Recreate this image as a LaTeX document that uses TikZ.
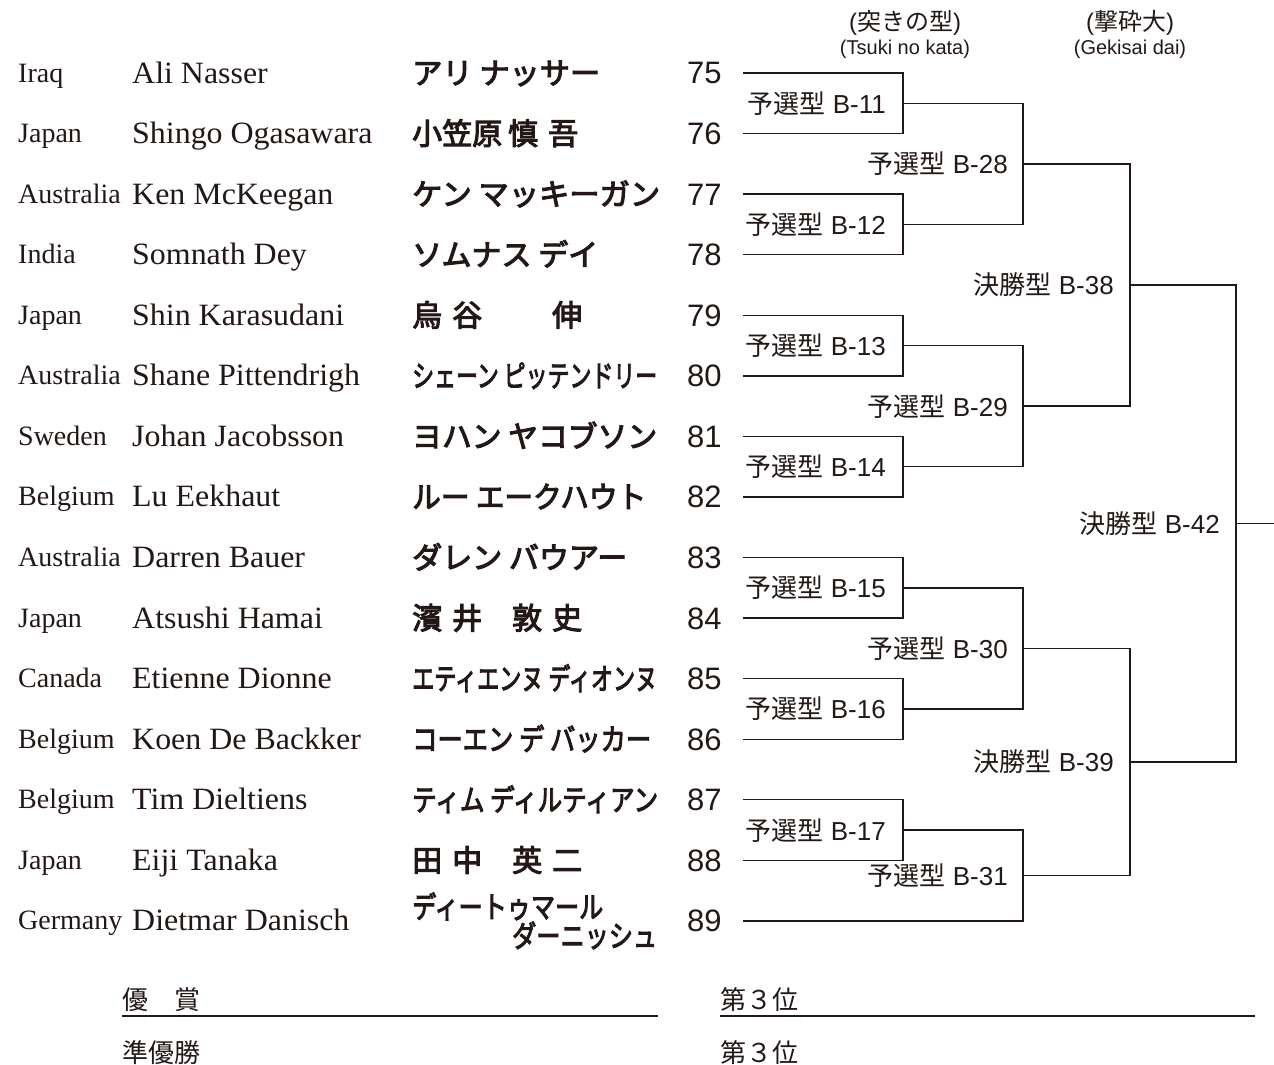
\documentclass[tikz,border=0pt]{standalone}
\usepackage{fontspec}
\usepackage{graphicx}
\setmainfont{Liberation Sans}
\newfontfamily\serif{Liberation Serif}
\newfontfamily\serifw{Liberation Serif}[FakeStretch=1.03]
\newfontfamily\jp{Noto Sans CJK JP}
\newfontfamily\jpb{Noto Sans CJK JP}[FakeBold=3.5]
\definecolor{ink}{HTML}{231815}
\newcommand\ry[1]{(73+60.57*(#1-75))}
\newcommand\kn[2]{\resizebox{#1pt}{\height}{#2}}
\newcommand\gap[1]{\hspace{#1pt}}
\tikzset{
  country/.style={anchor=base west, inner sep=0pt, text=ink, font=\serif\fontsize{28}{30}\selectfont},
  ename/.style={anchor=base west, inner sep=0pt, text=ink, font=\serifw\fontsize{31}{33}\selectfont},
  jname/.style={anchor=base west, inner sep=0pt, text=ink, font=\jpb\fontsize{30}{32}\selectfont},
  num/.style={anchor=base west, inner sep=0pt, text=ink, font=\fontsize{31}{33}\selectfont},
  lab/.style={anchor=base east, inner sep=0pt, text=ink, font=\fontsize{26}{28}\selectfont},
  hdjp/.style={anchor=base, inner sep=0pt, text=ink, font=\fontsize{24}{26}\selectfont},
  hdla/.style={anchor=base, inner sep=0pt, text=ink, font=\fontsize{20}{22}\selectfont},
  bot/.style={anchor=base west, inner sep=0pt, text=ink, font=\jp\fontsize{26}{28}\selectfont},
  br/.style={draw=ink, line width=1.3pt, line join=miter},
}
\newcommand\prow[4]{%
  \node[country] (c#1) at (18,{\ry{#1}+9}) {#2};
  \node[ename] (e#1) at (132,{\ry{#1}+10}) {#3};
  \node[jname] (k#1) at (412,{\ry{#1}+11}) {#4};
  \node[num] (n#1) at (687,{\ry{#1}+11}) {#1};
  \coordinate (s#1) at (743,{\ry{#1}});
}
\begin{document}
\begin{tikzpicture}[x=1pt,y=-1pt]
\useasboundingbox (0,0) rectangle (1274,1065);
% headers
\node[hdjp] (h1) at (905,31) {({\jp 突きの型})};
\node[hdla] (h2) at (905,55) {(Tsuki no kata)};
\node[hdjp] (h3) at (1130,31) {({\jp 撃砕大})};
\node[hdla] (h4) at (1130,55) {(Gekisai dai)};
% rows
\prow{75}{Iraq}{Ali Nasser}{\kn{188}{アリ ナッサー}}
\prow{76}{Japan}{Shingo Ogasawara}{小笠原\gap{6}慎\gap{10}吾}
\prow{77}{Australia}{Ken McKeegan}{\kn{248}{ケン マッキーガン}}
\prow{78}{India}{Somnath Dey}{\kn{186}{ソムナス デイ}}
\prow{79}{Japan}{Shin Karasudani}{烏\gap{10}谷\gap{70}伸}
\prow{80}{Australia}{Shane Pittendrigh}{\kn{245}{シェーン ピッテンドリー}}
\prow{81}{Sweden}{Johan Jacobsson}{\kn{245}{ヨハン ヤコブソン}}
\prow{82}{Belgium}{Lu Eekhaut}{\kn{234}{ルー エークハウト}}
\prow{83}{Australia}{Darren Bauer}{\kn{215}{ダレン バウアー}}
\prow{84}{Japan}{Atsushi Hamai}{濱\gap{10}井\gap{30}敦\gap{10}史}
\prow{85}{Canada}{Etienne Dionne}{\kn{245}{エティエンヌ ディオンヌ}}
\prow{86}{Belgium}{Koen De Backker}{\kn{239}{コーエン デ バッカー}}
\prow{87}{Belgium}{Tim Dieltiens}{\kn{246}{ティム ディルティアン}}
\prow{88}{Japan}{Eiji Tanaka}{田\gap{10}中\gap{30}英\gap{10}二}
% row 89
\node[country] (c89) at (18,{\ry{89}+9}) {Germany};
\node[ename] (e89) at (132,{\ry{89}+10}) {Dietmar Danisch};
\node[jname] (k89a) at (412,{\ry{89}-3}) {\kn{191}{ディートゥマール}};
\node[jname] (k89b) at (512,{\ry{89}+26}) {\kn{145}{ダーニッシュ}};
\node[num] (n89) at (687,{\ry{89}+11}) {89};
\coordinate (s89) at (743,{\ry{89}});
% junctions
\coordinate (j11) at (903,{(\ry{75}+\ry{76})/2});
\coordinate (j12) at (903,{(\ry{77}+\ry{78})/2});
\coordinate (j13) at (903,{(\ry{79}+\ry{80})/2});
\coordinate (j14) at (903,{(\ry{81}+\ry{82})/2});
\coordinate (j15) at (903,{(\ry{83}+\ry{84})/2});
\coordinate (j16) at (903,{(\ry{85}+\ry{86})/2});
\coordinate (j17) at (903,{(\ry{87}+\ry{88})/2});
\coordinate (j28) at (1023,{(\ry{75}+\ry{76}+\ry{77}+\ry{78})/4});
\coordinate (j29) at (1023,{(\ry{79}+\ry{80}+\ry{81}+\ry{82})/4});
\coordinate (j30) at (1023,{(\ry{83}+\ry{84}+\ry{85}+\ry{86})/4});
\coordinate (j31) at (1023,{((\ry{87}+\ry{88})/2+\ry{89})/2});
\path (j28) -- (j29) coordinate[pos=0.5] (m38);
\coordinate (j38) at (1130,0 |- m38);
\path (j30) -- (j31) coordinate[pos=0.5] (m39);
\coordinate (j39) at (1130,0 |- m39);
\path (j38) -- (j39) coordinate[pos=0.5] (m42);
\coordinate (j42) at (1236,0 |- m42);
\coordinate (fin) at (1274,0 |- m42);
% brackets
\draw[br] (s75) -| (j11) |- (s76);
\draw[br] (s77) -| (j12) |- (s78);
\draw[br] (s79) -| (j13) |- (s80);
\draw[br] (s81) -| (j14) |- (s82);
\draw[br] (s83) -| (j15) |- (s84);
\draw[br] (s85) -| (j16) |- (s86);
\draw[br] (s87) -| (j17) |- (s88);
\draw[br] (j11) -| (j28) |- (j12);
\draw[br] (j13) -| (j29) |- (j14);
\draw[br] (j15) -| (j30) |- (j16);
\draw[br] (j17) -| (j31) |- (s89);
\draw[br] (j28) -| (j38) |- (j29);
\draw[br] (j30) -| (j39) |- (j31);
\draw[br] (j38) -| (j42) |- (j39);
\draw[br] (j42) -- (fin);
% labels
\node[lab] (l11) at ([xshift=-17pt,yshift=-10pt]j11) {{\jp 予選型} B-11};
\node[lab] (l12) at ([xshift=-17pt,yshift=-10pt]j12) {{\jp 予選型} B-12};
\node[lab] (l13) at ([xshift=-17pt,yshift=-10pt]j13) {{\jp 予選型} B-13};
\node[lab] (l14) at ([xshift=-17pt,yshift=-10pt]j14) {{\jp 予選型} B-14};
\node[lab] (l15) at ([xshift=-17pt,yshift=-10pt]j15) {{\jp 予選型} B-15};
\node[lab] (l16) at ([xshift=-17pt,yshift=-10pt]j16) {{\jp 予選型} B-16};
\node[lab] (l17) at ([xshift=-17pt,yshift=-10pt]j17) {{\jp 予選型} B-17};
\node[lab] (l28) at ([xshift=-15pt,yshift=-10pt]j28) {{\jp 予選型} B-28};
\node[lab] (l29) at ([xshift=-15pt,yshift=-10pt]j29) {{\jp 予選型} B-29};
\node[lab] (l30) at ([xshift=-15pt,yshift=-10pt]j30) {{\jp 予選型} B-30};
\node[lab] (l31) at ([xshift=-15pt,yshift=-10pt]j31) {{\jp 予選型} B-31};
\node[lab] (l38) at ([xshift=-16pt,yshift=-10pt]j38) {{\jp 決勝型} B-38};
\node[lab] (l39) at ([xshift=-16pt,yshift=-10pt]j39) {{\jp 決勝型} B-39};
\node[lab] (l42) at ([xshift=-16pt,yshift=-10pt]j42) {{\jp 決勝型} B-42};
% bottom
\node[bot] (b1) at (122,1009) {優　賞};
\node[bot] (b2) at (720,1009) {第３位};
\node[bot] (b3) at (122,1062) {準優勝};
\node[bot] (b4) at (720,1062) {第３位};
\coordinate (u1a) at (122,1016);
\coordinate (u1b) at (658,1016);
\coordinate (u2a) at (720,1016);
\coordinate (u2b) at (1255,1016);
\draw[draw=ink, line width=1.3pt] (u1a) -- (u1b);
\draw[draw=ink, line width=1.3pt] (u2a) -- (u2b);
\end{tikzpicture}
\end{document}
